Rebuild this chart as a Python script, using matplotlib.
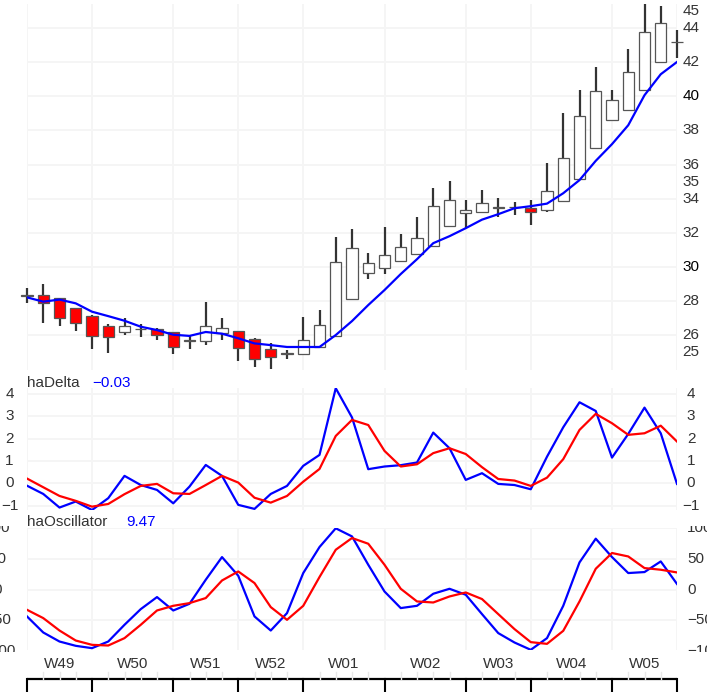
import matplotlib
matplotlib.use("Agg")
import matplotlib.pyplot as plt
from matplotlib.patches import Rectangle
from matplotlib.transforms import Bbox, TransformedBbox

plt.rcParams['font.family'] = ['Liberation Sans', 'DejaVu Sans']

# Heikin-Ashi candles (open, high, low, close)
ha_open = [28.36, 28.34, 28.15, 27.56, 27.13, 26.53, 26.19, 26.37, 26.35, 26.16,
           25.69, 25.67, 26.10, 26.23, 25.75, 25.16, 24.95, 24.89, 25.28, 25.94,
           28.11, 29.62, 29.91, 30.34, 30.75, 31.22, 32.39, 33.17, 33.23, 33.47,
           33.49, 33.43, 33.33, 33.87, 35.13, 36.98, 38.64, 39.23, 40.35, 42.02,
           43.19]
ha_high = [28.75, 28.97, 28.20, 27.58, 27.15, 26.64, 26.98, 26.63, 26.43, 26.18,
           26.00, 27.95, 27.01, 26.25, 25.80, 25.55, 25.12, 27.07, 27.47, 31.76,
           32.23, 30.82, 32.31, 31.90, 32.93, 34.63, 35.03, 33.91, 34.50, 34.02,
           33.80, 33.91, 36.10, 39.05, 40.40, 41.72, 40.40, 42.80, 45.40, 45.30,
           43.92]
ha_low = [27.88, 26.69, 26.53, 26.25, 25.18, 24.93, 25.98, 25.87, 25.71, 24.89,
          25.16, 25.41, 25.71, 24.48, 24.10, 23.99, 24.58, 24.83, 25.25, 25.92,
          28.05, 29.28, 29.56, 30.30, 30.72, 31.20, 32.37, 32.29, 33.20, 32.93,
          33.03, 32.45, 33.19, 33.85, 35.10, 36.95, 38.60, 39.20, 40.30, 41.98,
          42.28]
ha_close = [28.32, 27.86, 26.98, 26.72, 25.94, 25.88, 26.55, 26.33, 26.00, 25.28,
            25.65, 26.53, 26.39, 25.26, 24.59, 24.69, 24.91, 25.69, 26.59, 30.26,
            31.12, 30.24, 30.69, 31.16, 31.70, 33.56, 33.95, 33.33, 33.72, 33.51,
            33.52, 33.19, 34.46, 36.36, 38.84, 40.30, 39.81, 41.43, 43.78, 44.33,
            43.20]
ma_line = [28.21, 27.96, 28.08, 27.86, 27.37, 27.11, 26.84, 26.49, 26.29, 26.02,
           25.95, 26.18, 26.08, 25.81, 25.51, 25.41, 25.30, 25.30, 25.30, 26.00,
           26.82, 27.76, 28.64, 29.58, 30.45, 31.39, 31.80, 32.27, 32.77, 33.09,
           33.44, 33.56, 33.71, 34.32, 35.09, 36.22, 37.20, 38.31, 40.07, 41.30,
           42.02]

# haDelta panel
delta = [-0.11, -0.48, -1.09, -0.82, -1.20, -0.67, 0.33, -0.08, -0.30, -0.90,
         -0.15, 0.82, 0.33, -0.97, -1.15, -0.48, -0.12, 0.78, 1.27, 4.26,
         2.95, 0.63, 0.75, 0.81, 0.93, 2.27, 1.57, 0.15, 0.45, -0.03,
         -0.08, -0.27, 1.19, 2.51, 3.63, 3.24, 1.15, 2.21, 3.39, 2.24,
         -0.03]
delta_sig = [0.21, -0.18, -0.57, -0.79, -1.05, -0.93, -0.49, -0.12, -0.03, -0.45,
             -0.48, -0.08, 0.33, 0.03, -0.65, -0.87, -0.57, 0.07, 0.64, 2.12,
             2.84, 2.61, 1.45, 0.75, 0.85, 1.35, 1.57, 1.31, 0.72, 0.19,
             0.12, -0.12, 0.25, 1.08, 2.39, 3.11, 2.69, 2.17, 2.24, 2.58,
             1.87]

# haOscillator panel
osc = [-43.4, -69.5, -84.2, -91.2, -95.0, -84.2, -57.0, -31.5, -11.9, -33.7,
       -22.8, 16.3, 53.2, 22.8, -43.4, -66.3, -38.0, 27.2, 69.5, 100.0,
       86.8, 40.7, -2.8, -29.8, -26.1, -6.5, 1.6, -8.1, -39.6, -70.5,
       -85.8, -97.7, -78.7, -26.1, 44.5, 83.1, 53.2, 27.2, 28.8, 46.1,
       9.47]
osc_sig = [-32.6, -46.1, -66.3, -82.6, -89.6, -90.7, -78.7, -57.0, -33.7, -26.1,
           -21.7, -13.5, 15.1, 29.8, 10.9, -28.2, -48.9, -26.1, 20.7, 65.1,
           84.2, 74.9, 40.7, 1.6, -19.0, -20.7, -10.9, -4.4, -15.1, -39.6,
           -64.0, -85.2, -88.0, -66.8, -19.0, 34.2, 59.8, 54.2, 35.3, 32.6,
           28.2]

week_labels = ["W49", "W50", "W51", "W52", "W01", "W02", "W03", "W04", "W05"]
week_starts = [0, 4, 9, 13, 17, 22, 27, 31, 36, 40]

main_ticks = [25, 26, 28, 30, 32, 34, 35, 36, 38, 40, 42, 44, 45]
main_grid = [26, 28, 30, 32, 34, 36, 38, 40, 42, 44]
delta_ticks = [-1, 0, 1, 2, 3, 4]
osc_ticks = [-100, -50, 0, 50, 100]

W, H = 707, 692
fig = plt.figure(figsize=(W / 100, H / 100), dpi=100)
x = list(range(len(ha_close)))
GRID = '#F5F5F5'
TXT = '#333333'


def panel(top, bottom):
    ax = fig.add_axes([27 / W, 1 - bottom / H, 650 / W, (bottom - top) / H])
    ax.set_xlim(0, 40)
    for s in ax.spines.values():
        s.set_visible(False)
    ax.set_xticks([])
    ax.set_yticks([])
    for w in week_starts:
        ax.axvline(w, color=GRID, lw=1.3, zorder=0)
    return ax


def ylabels(ax, ticks, top, bottom, left=None, right=691, right_ha='center', bold=()):
    clip = TransformedBbox(Bbox([[0, 1 - (bottom + 2) / H], [1, 1 - (top - 2) / H]]),
                           fig.transFigure)
    for t in ticks:
        lab = str(t).replace('-', '\u2212')
        spots = [(right, right_ha)]
        if left is not None:
            spots.append((left, 'center'))
        for px, ha in spots:
            tx = ax.text((px - 27) / 650, t, lab, transform=ax.get_yaxis_transform(),
                         ha=ha, va='center', fontsize=11,
                         color='black' if t in bold else TXT)
            tx.set_clip_on(True)
            tx.set_clip_box(clip)


# main price panel
ax1 = panel(4, 370)
ax1.set_ylim(23.95, 45.42)
for g in main_grid:
    ax1.axhline(g, color=GRID, lw=1.3, zorder=0)
for i in x:
    o, h, l, c = ha_open[i], ha_high[i], ha_low[i], ha_close[i]
    ax1.plot([i, i], [l, h], color='#333333', lw=1.6, zorder=2, clip_on=False,
             solid_capstyle='butt')
    up = c >= o
    ax1.add_patch(Rectangle((i - 0.34, min(o, c)), 0.68, max(abs(c - o), 0.01),
                            facecolor='white' if up else '#FF0000',
                            edgecolor='#555555', lw=0.9, zorder=3, clip_on=False))
ax1.plot(x, ma_line, color='#0000FF', lw=1.6, zorder=4)
ylabels(ax1, main_ticks, 4, 370, bold=(30, 40))

# haDelta panel
ax2 = panel(388, 510)
ax2.set_ylim(-1.2, 4.27)
for g in delta_ticks:
    ax2.axhline(g, color=GRID, lw=1.3, zorder=0)
ax2.plot(x, delta, color='#0000FF', lw=1.6)
ax2.plot(x, delta_sig, color='#FF0000', lw=1.6)
ylabels(ax2, delta_ticks, 388, 510, left=9.5)
fig.text(27 / W, 1 - 387 / H, "haDelta", fontsize=11, color=TXT, va='baseline')
fig.text(92 / W, 1 - 387 / H, "\u22120.03", fontsize=11, color='#0000FF', va='baseline')

# haOscillator panel
ax3 = panel(528, 650)
ax3.set_ylim(-98, 100.5)
for g in osc_ticks:
    ax3.axhline(g, color=GRID, lw=1.3, zorder=0)
ax3.plot(x, osc, color='#0000FF', lw=1.6)
ax3.plot(x, osc_sig, color='#FF0000', lw=1.6)
ylabels(ax3, osc_ticks, 528, 650, left=-2, right=687, right_ha='left')
fig.text(27 / W, 1 - 526.5 / H, "haOscillator", fontsize=11, color=TXT, va='baseline')
fig.text(126 / W, 1 - 526.5 / H, "9.47", fontsize=11, color='#0000FF', va='baseline')

# bottom time axis
axb = fig.add_axes([27 / W, 0, 650 / W, 42 / H])
axb.set_xlim(0, 40)
axb.set_ylim(0, 42)
axb.axis('off')
axb.plot([0, 40], [13, 13], color='black', lw=1.6, clip_on=False, solid_capstyle='butt')
for i in x:
    if i in week_starts:
        axb.plot([i, i], [-2, 13], color='black', lw=1.5, clip_on=False)
    else:
        axb.plot([i, i], [13, 20], color='#E8E8E8', lw=1, clip_on=False)
for k, lab in enumerate(week_labels):
    axb.text((week_starts[k] + week_starts[k + 1]) / 2, 28, lab, ha='center',
             va='center', fontsize=11, color=TXT)

fig.savefig("out.png", dpi=100)
